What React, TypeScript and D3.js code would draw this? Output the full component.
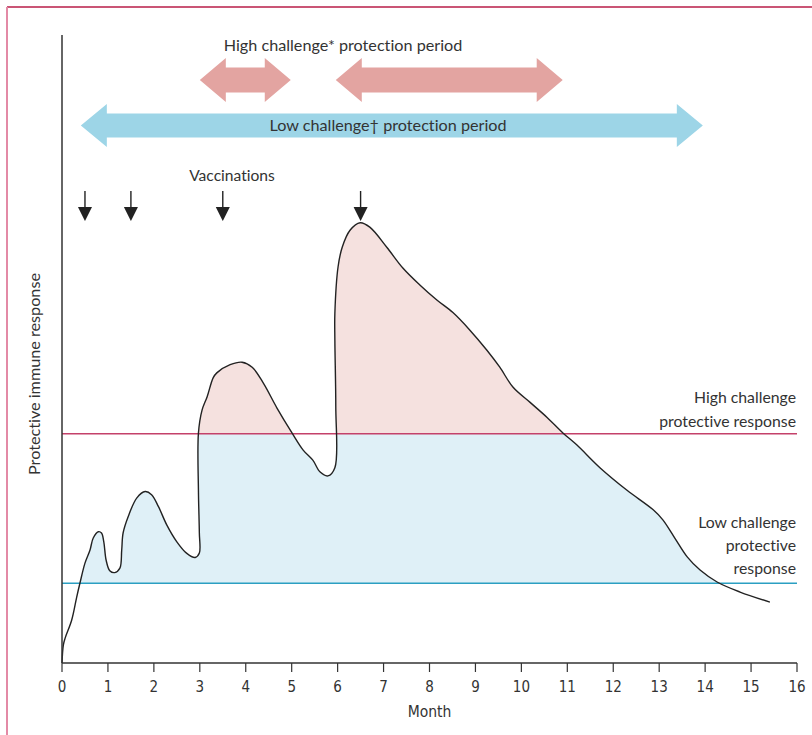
import React from 'react';
import * as d3 from 'd3';

// x-axis ticks (months)
const monthTicks = d3.range(0, 17);

// protective immune response curve (month, arbitrary level 0-100)
const responseMonth = [
  0, 0.03, 0.07, 0.21, 0.32, 0.39, 0.5, 0.61, 0.68, 0.79, 0.86, 0.91, 0.96, 1.04, 1.15, 1.26,
  1.3, 1.33, 1.44, 1.63, 1.81, 1.95, 2.1, 2.28, 2.5, 2.71, 2.9, 2.99, 2.99, 2.97, 2.97, 3.05,
  3.16, 3.29, 3.37, 3.66, 3.92, 4.14, 4.38, 4.68, 5.01, 5.25, 5.46, 5.62, 5.79, 5.94, 5.96,
  5.94, 5.94, 6.01, 6.1, 6.27, 6.49, 6.7, 7.07, 7.42, 7.79, 8.16, 8.51, 8.88, 9.25, 9.53,
  9.82, 10.19, 10.56, 10.91, 11.21, 11.71, 12.3, 12.87, 13.08, 13.34, 13.61, 13.89, 14.26,
  14.76, 15.41,
];
const responseLevel = [
  0, 2.9, 4.0, 6.8, 10.5, 12.7, 15.9, 18.0, 19.9, 20.9, 20.7, 19.3, 16.4, 14.7, 14.4, 15.1,
  18.0, 20.7, 23.3, 26.3, 27.3, 26.8, 24.9, 22.0, 19.3, 17.5, 16.8, 17.5, 20.7, 27.5, 36.6, 40.3,
  42.4, 45.4, 46.2, 47.5, 47.9, 47.1, 44.6, 40.6, 36.6, 33.9, 32.3, 30.4, 29.8, 31.1, 40.8,
  51.4, 55.7, 63.1, 66.2, 68.9, 70.1, 69.4, 66.2, 62.9, 60.2, 57.8, 55.8, 53.0, 49.8, 47.1,
  43.9, 41.5, 39.1, 36.6, 34.7, 31.1, 27.5, 24.4, 22.8, 19.9, 16.9, 14.8, 12.9,
  11.3, 9.7,
];

const highThreshold = 36.5;
const lowThreshold = 12.7;

const vaccinationMonths = [0.5, 1.5, 3.5, 6.5];
const highPeriods: [number, number][] = [[3.0, 4.98], [5.96, 10.9]];
const lowPeriod: [number, number] = [0.41, 13.95];

const W = 812;
const H = 735;
const margin = { top: 35, right: 15, bottom: 72, left: 62 };

const sans = 'Lato, "Open Sans", sans-serif';
const narrow = '"Liberation Sans Narrow", "DejaVu Sans Condensed", sans-serif';
const noLig = { fontVariantLigatures: 'none' as const, fontFeatureSettings: '"liga" 0, "clig" 0' };

function doubleArrow(x0: number, x1: number, cy: number, head: number, half: number, shaft: number) {
  return [
    [x0, cy], [x0 + head, cy - half], [x0 + head, cy - shaft], [x1 - head, cy - shaft],
    [x1 - head, cy - half], [x1, cy], [x1 - head, cy + half], [x1 - head, cy + shaft],
    [x0 + head, cy + shaft], [x0 + head, cy + half],
  ].map(p => p.join(',')).join(' ');
}

export default function App() {
  const x = d3.scaleLinear().domain([0, 16]).range([margin.left, W - margin.right]);
  const y = d3.scaleLinear().domain([0, 100]).range([H - margin.bottom, margin.top]);

  const pts = responseMonth.map((m, i) => ({ m, v: responseLevel[i] }));
  const curve = d3.curveCatmullRom.alpha(0.5);

  const line = d3.line<typeof pts[0]>()
    .x(d => x(d.m))
    .y(d => y(d.v))
    .curve(curve);

  const area = d3.area<typeof pts[0]>()
    .x(d => x(d.m))
    .y0(y(lowThreshold))
    .y1(d => y(d.v))
    .curve(curve);

  const yHigh = y(highThreshold);
  const yLow = y(lowThreshold);
  const base = y(0);

  return (
    <svg width={W} height={H} style={{ position: 'absolute', left: 0, top: 0 }}>
      <defs>
        <clipPath id="clipLow">
          <rect x={0} y={yHigh} width={W} height={yLow - yHigh} />
        </clipPath>
        <clipPath id="clipHigh">
          <rect x={0} y={0} width={W} height={yHigh} />
        </clipPath>
      </defs>

      {/* frame */}
      <line x1={7} x2={W} y1={7} y2={7} stroke="#b91d47" strokeWidth={1.4} />
      <line x1={7} x2={7} y1={7} y2={H} stroke="#e38aa6" strokeWidth={2} />

      {/* fills */}
      <path d={area(pts) || ''} fill="#dff0f7" clipPath="url(#clipLow)" />
      <path d={area(pts) || ''} fill="#f5e1df" clipPath="url(#clipHigh)" />

      {/* thresholds */}
      <line x1={x(0)} x2={x(16)} y1={yHigh} y2={yHigh} stroke="#c4416a" strokeWidth={1.6} />
      <line x1={x(0)} x2={x(16)} y1={yLow} y2={yLow} stroke="#2b9fc2" strokeWidth={1.4} />

      {/* response curve */}
      <path d={line(pts) || ''} fill="none" stroke="#222" strokeWidth={1.4} />

      {/* axes */}
      <line x1={x(0)} x2={x(0)} y1={margin.top} y2={base} stroke="#333" strokeWidth={1.5} />
      <line x1={x(0)} x2={x(16)} y1={base} y2={base} stroke="#333" strokeWidth={1.5} />
      {monthTicks.map(t => (
        <g key={t} transform={`translate(${x(t)},${base})`}>
          <line y1={0} y2={9} stroke="#333" strokeWidth={1.2} />
          <text y={29} textAnchor="middle" fontFamily={narrow} fontSize={15} fill="#333">{t}</text>
        </g>
      ))}
      <text x={x(8)} y={717} textAnchor="middle" fontFamily={narrow} fontSize={15.5} fill="#333">Month</text>
      <text transform={`translate(40,374) rotate(-90)`} textAnchor="middle" style={noLig}
        fontFamily={sans} fontSize={16.2} fill="#333">Protective immune response</text>

      {/* protection period arrows */}
      {highPeriods.map(([a, b], i) => (
        <polygon key={i} points={doubleArrow(x(a), x(b), 80, 26, 22, 12.5)} fill="#e3a4a1" />
      ))}
      <polygon points={doubleArrow(x(lowPeriod[0]), x(lowPeriod[1]), 125.5, 26, 21.5, 12)} fill="#9dd5e7" />
      <g fontFamily={sans} fontSize={16.2} fill="#333" textAnchor="middle" style={noLig}>
        <text x={343} y={51}>High challenge* protection period</text>
        <text x={388} y={131}>Low challenge† protection period</text>
        <text x={232} y={181} fontSize={15.6}>Vaccinations</text>
      </g>

      {/* vaccinations */}
      {vaccinationMonths.map(m => (
        <g key={m} transform={`translate(${x(m)},0)`}>
          <line y1={191} y2={209} stroke="#222" strokeWidth={1.4} />
          <polygon points="-7,207 7,207 0,221" fill="#222" />
        </g>
      ))}

      {/* threshold labels */}
      <g fontFamily={sans} fontSize={15.8} fill="#333" textAnchor="end" style={noLig}>
        <text x={796} y={403}>High challenge</text>
        <text x={796} y={427}>protective response</text>
        <text x={796} y={528}>Low challenge</text>
        <text x={796} y={551}>protective</text>
        <text x={796} y={574}>response</text>
      </g>
    </svg>
  );
}
